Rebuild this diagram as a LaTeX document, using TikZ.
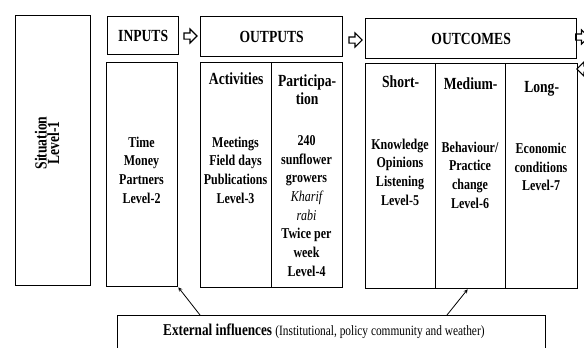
\documentclass[tikz,border=0pt]{standalone}
\usepackage{fontspec}
\setmainfont{Liberation Serif}[FakeStretch=0.8]
\usetikzlibrary{shapes}
\usetikzlibrary{shapes.arrows}
\usetikzlibrary{positioning}
\usetikzlibrary{arrows}
\tikzstyle{box} = [rectangle, draw=black, line width=1.3pt, inner sep=0pt, anchor=north west]
\tikzstyle{head} = [align=center, inner sep=1pt, font=\fontsize{17}{18}\selectfont\bfseries]
\tikzstyle{body} = [align=center, inner sep=1pt, font=\fontsize{15}{18.7}\selectfont\bfseries]
\tikzstyle{blockarrow} = [single arrow, draw=black, line width=1.1pt, inner sep=2.5pt,
minimum height=13pt, single arrow head extend=4pt]
\tikzstyle{influence} = [->, line width=0.8pt]
\tikzset{>={stealth}}
\newcommand{\seasontext}[1]{{\mdseries\itshape #1}}

\begin{document}
\begin{tikzpicture}[x=1pt, y=-1pt]
  \useasboundingbox (0,0) rectangle (584,348);
  \clip (0,0) rectangle (584,348);

  % situation
  \node[box, minimum width=75pt, minimum height=270pt] (sit) at (15,15) {};
  \node[head, rotate=90, font=\fontsize{17}{12.5}\selectfont\bfseries] (sitlabel) at (47,143) {Situation\\Level-1};

  % inputs
  \node[box, head, minimum width=71pt, minimum height=38pt] (inhead) at (107,16) {INPUTS};
  \node[box, minimum width=71pt, minimum height=224pt] (inbody) at (106,62) {};
  \node[body] (intext) at (141.5,170) {Time\\Money\\Partners\\Level-2};

  \node[blockarrow] (inarrow) at (189,36) {};

  % outputs
  \node[box, head, minimum width=142pt, minimum height=40pt] (outhead) at (200,16) {OUTPUTS};
  \node[box, minimum width=71pt, minimum height=225pt] (acts) at (200,62) {};
  \node[box, minimum width=71pt, minimum height=225pt] (part) at (271,62) {};
  \node[head, below=10pt of acts.north] (actshead) {Activities};
  \node[head, below=12pt of part.north] (parthead) {Participa-\\tion};
  \node[body] (actstext) at (235.5,170) {Meetings\\Field days\\Publications\\Level-3};
  \node[body] (parttext) at (306.5,206) {240\\sunflower\\growers\\\seasontext{Kharif}\\\seasontext{rabi}\\Twice per\\week\\Level-4};

  \node[blockarrow] (outarrow) at (354,40) {};

  % outcomes
  \node[box, head, minimum width=211pt, minimum height=40pt] (outchead) at (365,18) {OUTCOMES};
  \node[box, minimum width=70pt, minimum height=225pt] (short) at (365,63) {};
  \node[box, minimum width=70pt, minimum height=225pt] (medium) at (435,63) {};
  \node[box, minimum width=72pt, minimum height=225pt] (long) at (505,63) {};
  \node[head, below=12pt of short.north] (shorthead) {Short-};
  \node[head, below=14pt of medium.north] (mediumhead) {Medium-};
  \node[head, below=17pt of long.north] (longhead) {Long-};
  \node[body] (shorttext) at (400,172) {Knowledge\\Opinions\\Listening\\Level-5};
  \node[body] (mediumtext) at (470,175) {Behaviour/\\Practice\\change\\Level-6};
  \node[body] (longtext) at (541,167) {Economic\\conditions\\Level-7};

  \node[blockarrow, anchor=tail] (nextarrow) at (575,37) {};
  \node[blockarrow, shape border rotate=180, anchor=tip] (backarrow) at (576,69) {};

  % external influences
  \node[box, minimum width=428pt, minimum height=60pt] (ext) at (117,315) {};
  \node[anchor=base west, inner sep=0pt] (exttext) at (163,335)
    {\fontsize{16.5}{18}\selectfont\bfseries External influences
     \fontsize{14.2}{15}\selectfont\mdseries (Institutional, policy community and weather)};

  \draw[influence] ([xshift=83pt]ext.north west) -- (inbody.south east);
  \draw[influence] ([xshift=330pt]ext.north west) -- ([xshift=-3pt]medium.south);
\end{tikzpicture}
\end{document}
